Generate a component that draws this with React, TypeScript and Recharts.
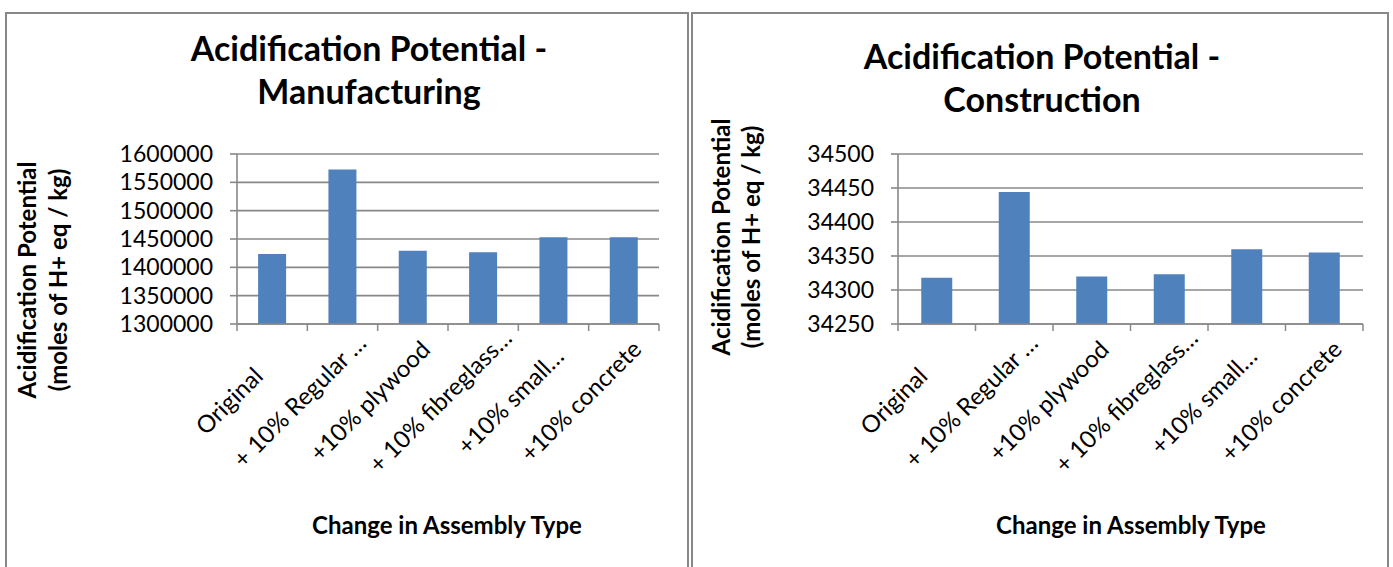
import { BarChart, Bar, XAxis, YAxis, CartesianGrid } from 'recharts';

// Assembly variants compared on both charts
const categories = [
  'Original',
  '+ 10% Regular …',
  '+10% plywood',
  '+ 10% fibreglass…',
  '+10% small…',
  '+10% concrete',
];

// Acidification potential, moles of H+ eq / kg
const manufacturingValues = [1423500, 1572800, 1429300, 1426400, 1453000, 1453000];
const constructionValues = [34318, 34444, 34320, 34323, 34360, 34355];

const manufacturingTicks = [1300000, 1350000, 1400000, 1450000, 1500000, 1550000, 1600000];
const constructionTicks = [34250, 34300, 34350, 34400, 34450, 34500];

const FONT = "Lato, 'Open Sans', sans-serif";
const AXIS_GRAY = '#888888';
const BAR_BLUE = '#4f81bd';

const TICK_SIZE = 7;
const TICK_MARGIN = 40;
// rotated labels are centred on a point below-left of the band centre
const LABEL_DX = -37;
const LABEL_DY = 83;

interface CategoryTickProps {
  x?: number;
  y?: number;
  index?: number;
  payload?: { value: string; offset?: number };
}

// Rotated category label plus tick marks on the band edges
function CategoryTick({ x = 0, y = 0, index = 0, payload }: CategoryTickProps) {
  const half = payload?.offset ?? 35;
  const axisY = y - TICK_SIZE - TICK_MARGIN;
  const isLast = index === categories.length - 1;
  const tx = x + LABEL_DX;
  const ty = axisY + LABEL_DY;
  return (
    <g>
      <line x1={x - half} x2={x - half} y1={axisY} y2={axisY + TICK_SIZE} stroke={AXIS_GRAY} strokeWidth={1.5} />
      {isLast && (
        <line x1={x + half} x2={x + half} y1={axisY} y2={axisY + TICK_SIZE} stroke={AXIS_GRAY} strokeWidth={1.5} />
      )}
      <text
        x={tx}
        y={ty}
        textAnchor="middle"
        transform={`rotate(-45, ${tx}, ${ty})`}
        fontSize={24}
        fontFamily={FONT}
        fill="#000"
      >
        {payload?.value}
      </text>
    </g>
  );
}

interface PanelChartProps {
  values: number[];
  ticks: number[];
  left: number;
  width: number;
  marginLeft: number;
  marginRight: number;
}

function PanelChart({ values, ticks, left, width, marginLeft, marginRight }: PanelChartProps) {
  const data = categories.map((name, i) => ({ name, value: values[i] }));
  return (
    <div style={{ position: 'absolute', left, top: 0 }}>
      <BarChart
        width={width}
        height={567}
        data={data}
        margin={{ top: 154, right: marginRight, bottom: 93, left: marginLeft }}
        barCategoryGap="30%"
      >
        <CartesianGrid vertical={false} stroke={AXIS_GRAY} strokeWidth={1.6} />
        <XAxis
          dataKey="name"
          interval={0}
          height={150}
          tickLine={false}
          tickSize={TICK_SIZE}
          tickMargin={TICK_MARGIN}
          axisLine={{ stroke: AXIS_GRAY, strokeWidth: 1.6 }}
          tick={<CategoryTick />}
        />
        <YAxis
          type="number"
          width={130}
          domain={[ticks[0], ticks[ticks.length - 1]]}
          ticks={ticks}
          interval={0}
          tickSize={TICK_SIZE}
          tickMargin={17}
          tickLine={{ stroke: AXIS_GRAY, strokeWidth: 1.6 }}
          axisLine={{ stroke: AXIS_GRAY, strokeWidth: 1.6 }}
          tick={{ fontSize: 23, fontFamily: FONT, fill: '#000' }}
        />
        <Bar dataKey="value" fill={BAR_BLUE} isAnimationActive={false} />
      </BarChart>
    </div>
  );
}

const titleStyle = { fontFamily: FONT, fontWeight: 700, fill: '#000' } as const;

export default function App() {
  return (
    <div
      style={{
        position: 'absolute',
        left: 0,
        top: 0,
        width: 1393,
        height: 567,
        overflow: 'hidden',
        background: '#fff',
      }}
    >
      <div
        style={{
          position: 'absolute',
          left: 5,
          top: 12,
          width: 684,
          height: 600,
          boxSizing: 'border-box',
          border: `2px solid ${AXIS_GRAY}`,
        }}
      />
      <div
        style={{
          position: 'absolute',
          left: 691,
          top: 12,
          width: 698,
          height: 600,
          boxSizing: 'border-box',
          border: `2px solid ${AXIS_GRAY}`,
        }}
      />

      <PanelChart
        values={manufacturingValues}
        ticks={manufacturingTicks}
        left={0}
        width={689}
        marginLeft={107}
        marginRight={30}
      />
      <PanelChart
        values={constructionValues}
        ticks={constructionTicks}
        left={689}
        width={700}
        marginLeft={79}
        marginRight={26}
      />

      <svg width={1393} height={567} style={{ position: 'absolute', left: 0, top: 0, pointerEvents: 'none' }}>
        {/* chart titles */}
        <text x={369} y={61} textAnchor="middle" fontSize={34} {...titleStyle}>
          Acidification Potential -
        </text>
        <text x={369} y={104} textAnchor="middle" fontSize={34} {...titleStyle}>
          Manufacturing
        </text>
        <text x={1042} y={69} textAnchor="middle" fontSize={34} {...titleStyle}>
          Acidification Potential -
        </text>
        <text x={1042} y={112} textAnchor="middle" fontSize={34} {...titleStyle}>
          Construction
        </text>

        {/* x axis titles */}
        <text x={447} y={534} textAnchor="middle" fontSize={24} {...titleStyle}>
          Change in Assembly Type
        </text>
        <text x={1131} y={534} textAnchor="middle" fontSize={24} {...titleStyle}>
          Change in Assembly Type
        </text>

        {/* y axis titles */}
        <g transform="rotate(-90, 36, 280)">
          <text x={36} y={280} textAnchor="middle" fontSize={24} {...titleStyle}>
            Acidification Potential
          </text>
        </g>
        <g transform="rotate(-90, 67, 280)">
          <text x={67} y={280} textAnchor="middle" fontSize={24} {...titleStyle}>
            (moles of H+ eq / kg)
          </text>
        </g>
        <g transform="rotate(-90, 730, 237)">
          <text x={730} y={237} textAnchor="middle" fontSize={24} {...titleStyle}>
            Acidification Potential
          </text>
        </g>
        <g transform="rotate(-90, 760, 237)">
          <text x={760} y={237} textAnchor="middle" fontSize={24} {...titleStyle}>
            (moles of H+ eq / kg)
          </text>
        </g>
      </svg>
    </div>
  );
}
